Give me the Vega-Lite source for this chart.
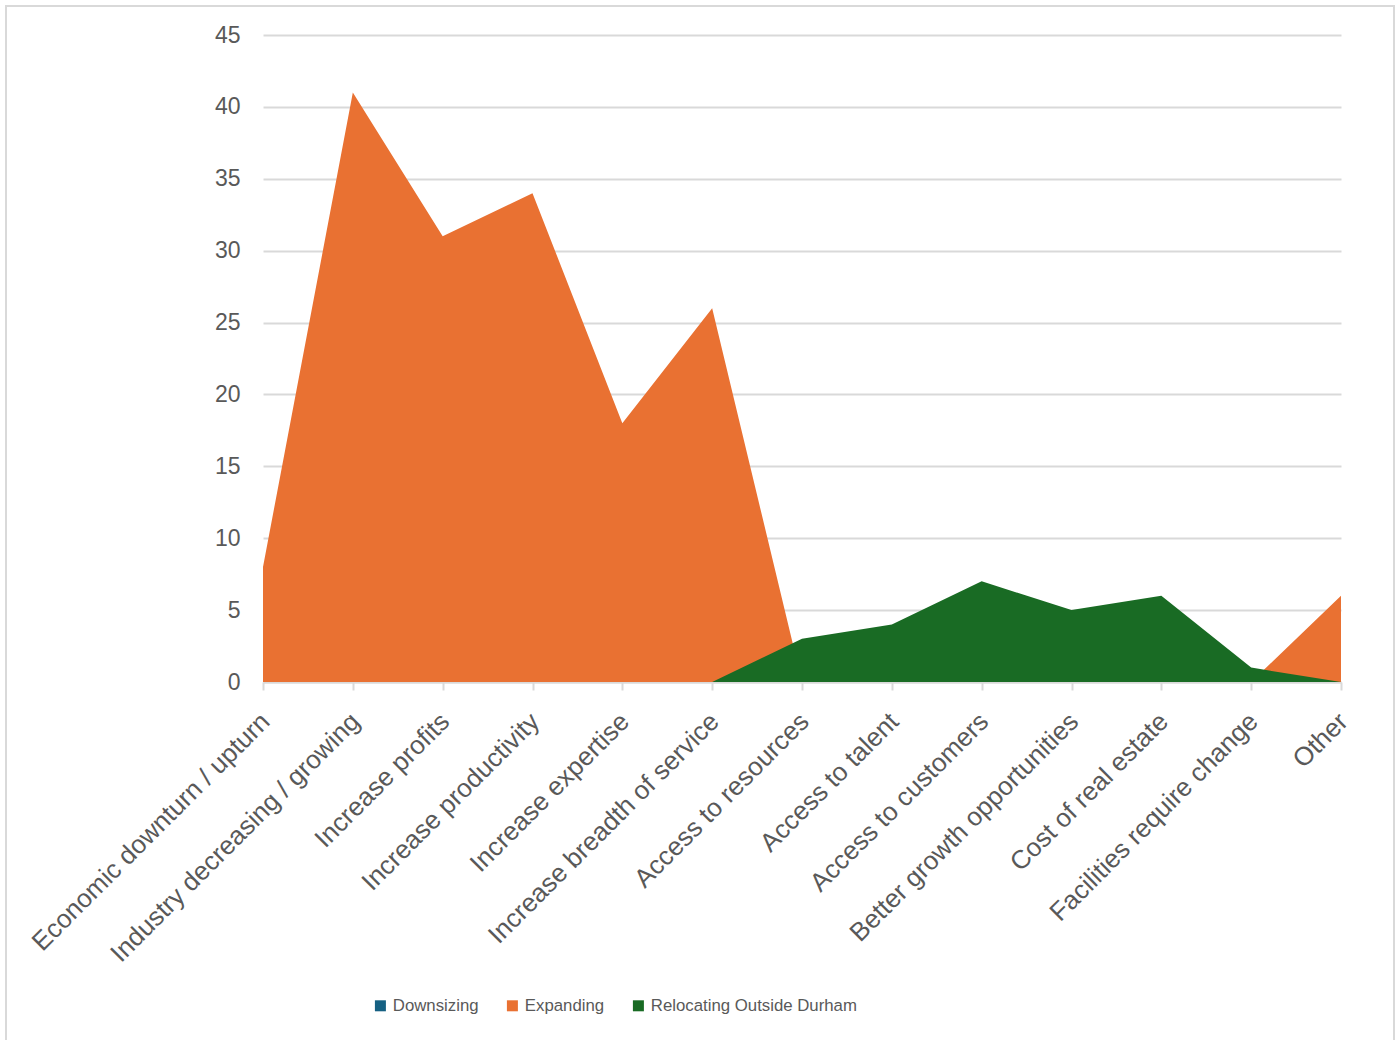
{
  "$schema": "https://vega.github.io/schema/vega-lite/v6.json",
  "width": 1388,
  "height": 1040,
  "autosize": {"type": "none"},
  "padding": {"left": 6, "top": 6, "right": 6, "bottom": 0},
  "background": "#ffffff",
  "config": {
    "view": {"stroke": "#d9d9d9", "strokeWidth": 2},
    "font": "Liberation Sans"
  },
  "data": {
    "values": [
      {"reason": "Economic downturn / upturn", "type": "Downsizing", "count": 0},
      {"reason": "Industry decreasing / growing", "type": "Downsizing", "count": 0},
      {"reason": "Increase profits", "type": "Downsizing", "count": 0},
      {"reason": "Increase productivity", "type": "Downsizing", "count": 0},
      {"reason": "Increase expertise", "type": "Downsizing", "count": 0},
      {"reason": "Increase breadth of service", "type": "Downsizing", "count": 0},
      {"reason": "Access to resources", "type": "Downsizing", "count": 0},
      {"reason": "Access to talent", "type": "Downsizing", "count": 0},
      {"reason": "Access to customers", "type": "Downsizing", "count": 0},
      {"reason": "Better growth opportunities", "type": "Downsizing", "count": 0},
      {"reason": "Cost of real estate", "type": "Downsizing", "count": 0},
      {"reason": "Facilities require change", "type": "Downsizing", "count": 0},
      {"reason": "Other", "type": "Downsizing", "count": 0},
      {"reason": "Economic downturn / upturn", "type": "Expanding", "count": 8},
      {"reason": "Industry decreasing / growing", "type": "Expanding", "count": 41},
      {"reason": "Increase profits", "type": "Expanding", "count": 31},
      {"reason": "Increase productivity", "type": "Expanding", "count": 34},
      {"reason": "Increase expertise", "type": "Expanding", "count": 18},
      {"reason": "Increase breadth of service", "type": "Expanding", "count": 26},
      {"reason": "Access to resources", "type": "Expanding", "count": 0},
      {"reason": "Access to talent", "type": "Expanding", "count": 0},
      {"reason": "Access to customers", "type": "Expanding", "count": 0},
      {"reason": "Better growth opportunities", "type": "Expanding", "count": 0},
      {"reason": "Cost of real estate", "type": "Expanding", "count": 0},
      {"reason": "Facilities require change", "type": "Expanding", "count": 0},
      {"reason": "Other", "type": "Expanding", "count": 6},
      {"reason": "Economic downturn / upturn", "type": "Relocating Outside Durham", "count": 0},
      {"reason": "Industry decreasing / growing", "type": "Relocating Outside Durham", "count": 0},
      {"reason": "Increase profits", "type": "Relocating Outside Durham", "count": 0},
      {"reason": "Increase productivity", "type": "Relocating Outside Durham", "count": 0},
      {"reason": "Increase expertise", "type": "Relocating Outside Durham", "count": 0},
      {"reason": "Increase breadth of service", "type": "Relocating Outside Durham", "count": 0},
      {"reason": "Access to resources", "type": "Relocating Outside Durham", "count": 3},
      {"reason": "Access to talent", "type": "Relocating Outside Durham", "count": 4},
      {"reason": "Access to customers", "type": "Relocating Outside Durham", "count": 7},
      {"reason": "Better growth opportunities", "type": "Relocating Outside Durham", "count": 5},
      {"reason": "Cost of real estate", "type": "Relocating Outside Durham", "count": 6},
      {"reason": "Facilities require change", "type": "Relocating Outside Durham", "count": 1},
      {"reason": "Other", "type": "Relocating Outside Durham", "count": 0}
    ]
  },
  "mark": {"type": "area", "interpolate": "linear", "opacity": 1},
  "encoding": {
    "x": {
      "field": "reason",
      "type": "nominal",
      "sort": null,
      "scale": {"type": "point", "padding": 0, "range": [257, 1335]},
      "axis": {
        "title": null,
        "orient": "bottom",
        "offset": -364,
        "domainColor": "#d9d9d9",
        "domainWidth": 2,
        "tickColor": "#d9d9d9",
        "tickWidth": 2,
        "tickSize": 8,
        "labelAngle": -45,
        "labelAlign": "right",
        "labelBaseline": "top",
        "labelPadding": 18,
        "labelOffset": -7,
        "labelFont": "Liberation Sans",
        "labelFontSize": 26,
        "labelColor": "#595959",
        "labelOverlap": false,
        "labelLimit": 0,
        "grid": false
      }
    },
    "y": {
      "field": "count",
      "type": "quantitative",
      "stack": null,
      "scale": {"domain": [0, 45], "range": [676, 29], "nice": false, "zero": true},
      "axis": {
        "title": null,
        "values": [0, 5, 10, 15, 20, 25, 30, 35, 40, 45],
        "offset": -234,
        "domain": false,
        "ticks": false,
        "tickSize": 0,
        "labelPadding": 0,
        "labelFont": "Liberation Sans",
        "labelFontSize": 23,
        "labelColor": "#595959",
        "grid": true,
        "gridColor": "#d9d9d9",
        "gridWidth": 2
      }
    },
    "color": {
      "field": "type",
      "type": "nominal",
      "scale": {
        "domain": ["Downsizing", "Expanding", "Relocating Outside Durham"],
        "range": ["#156082", "#E97132", "#196B24"]
      },
      "legend": {
        "title": null,
        "orient": "none",
        "direction": "horizontal",
        "legendX": 366,
        "legendY": 991,
        "symbolType": "square",
        "symbolSize": 121,
        "symbolStrokeWidth": 0,
        "labelFont": "Liberation Sans",
        "labelFontSize": 16.8,
        "labelColor": "#595959",
        "labelOffset": 4,
        "columnPadding": 25,
        "labelLimit": 0
      }
    },
    "order": {"field": "type"}
  }
}
